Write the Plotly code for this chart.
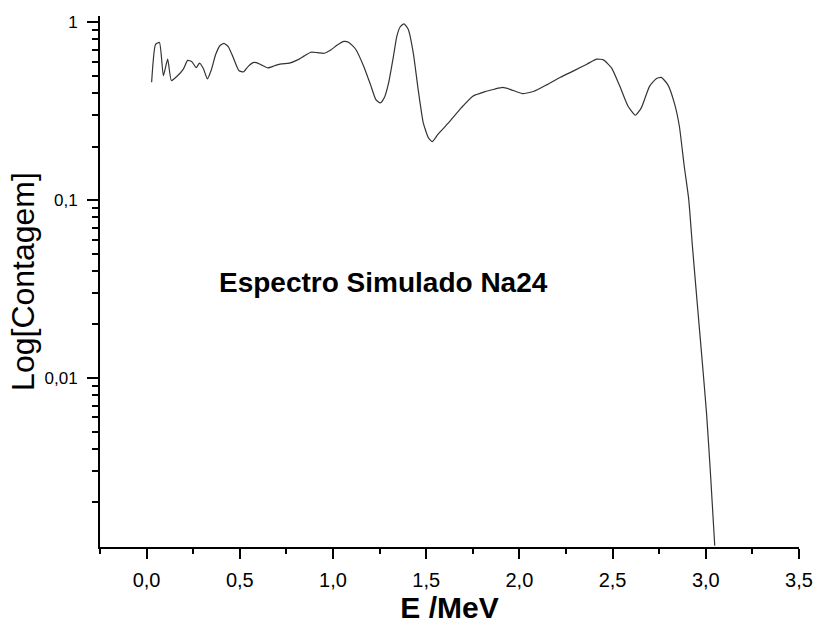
import math
import plotly.graph_objects as go

energy_mev = [0.027, 0.048, 0.069, 0.090, 0.113, 0.133, 0.166, 0.198, 0.220, 0.243,
              0.266, 0.284, 0.305, 0.326, 0.346, 0.371, 0.394, 0.415, 0.438, 0.464,
              0.496, 0.521, 0.544, 0.571, 0.589, 0.615, 0.651, 0.686, 0.722, 0.766,
              0.810, 0.846, 0.881, 0.916, 0.952, 0.988, 1.023, 1.059, 1.085, 1.121,
              1.165, 1.201, 1.230, 1.254, 1.275, 1.298, 1.324, 1.342, 1.360, 1.381,
              1.404, 1.431, 1.457, 1.484, 1.511, 1.532, 1.564, 1.617, 1.688, 1.750,
              1.812, 1.865, 1.910, 1.954, 2.016, 2.078, 2.149, 2.220, 2.291, 2.362,
              2.415, 2.451, 2.495, 2.539, 2.583, 2.622, 2.654, 2.698, 2.734, 2.761,
              2.796, 2.831, 2.858, 2.884, 2.908, 2.929, 2.956, 2.982, 3.004, 3.027,
              3.048]
counts = [0.46, 0.75, 0.77, 0.50, 0.62, 0.47, 0.50, 0.547, 0.61, 0.60,
          0.556, 0.589, 0.547, 0.48, 0.535, 0.66, 0.74, 0.76, 0.73, 0.636,
          0.533, 0.527, 0.563, 0.593, 0.593, 0.576, 0.554, 0.569, 0.583, 0.589,
          0.614, 0.647, 0.678, 0.675, 0.669, 0.698, 0.745, 0.78, 0.77, 0.707,
          0.564, 0.446, 0.367, 0.352, 0.376, 0.455, 0.641, 0.83, 0.94, 0.98,
          0.91, 0.669, 0.418, 0.273, 0.225, 0.213, 0.235, 0.270, 0.330, 0.384,
          0.406, 0.420, 0.430, 0.418, 0.397, 0.409, 0.446, 0.490, 0.533, 0.581,
          0.620, 0.614, 0.552, 0.436, 0.337, 0.300, 0.330, 0.436, 0.481, 0.490,
          0.446, 0.352, 0.261, 0.156, 0.102, 0.0537, 0.0249, 0.012, 0.00633, 0.00269,
          0.00114]

x_ticks = [0.0, 0.5, 1.0, 1.5, 2.0, 2.5, 3.0, 3.5]
x_ticktext = ["0,0", "0,5", "1,0", "1,5", "2,0", "2,5", "3,0", "3,5"]
x_minor = [-0.25, 0.25, 0.75, 1.25, 1.75, 2.25, 2.75, 3.25]
y_ticks = [0.01, 0.1, 1]
y_ticktext = ["0,01", "0,1", "1"]
y_minor = [m * d for d in (0.001, 0.01, 0.1) for m in range(2, 10)]

annotation_text = "Espectro Simulado Na24"
annotation_pos = (1.27, 0.0346)

fig = go.Figure()
fig.add_trace(go.Scatter(x=energy_mev, y=counts, mode="lines",
                         line=dict(color="#333333", width=1.2, shape="spline", smoothing=0.5),
                         showlegend=False))

fig.update_layout(
    width=825, height=628,
    margin=dict(l=100, r=21, t=16, b=77),
    plot_bgcolor="white", paper_bgcolor="white",
    font=dict(family="Liberation Sans, Arial, sans-serif", color="black"),
    separators=",.",
    annotations=[dict(text="<b>" + annotation_text + "</b>",
                      x=annotation_pos[0], y=math.log10(annotation_pos[1]),
                      xref="x", yref="y", showarrow=False,
                      font=dict(size=28, family="Liberation Sans, Arial", color="black"))],
)
fig.update_xaxes(
    range=[-0.25, 3.5], showline=True, linecolor="black", linewidth=2,
    showgrid=False, zeroline=False, mirror=False,
    tickmode="array", tickvals=x_ticks, ticktext=x_ticktext,
    ticks="outside", ticklen=10, tickwidth=2, tickcolor="black",
    ticklabelstandoff=4,
    tickfont=dict(size=20, family="Liberation Sans, Arial"),
    minor=dict(tickmode="array", tickvals=x_minor, ticks="outside", ticklen=5,
               tickwidth=2, tickcolor="black", showgrid=False),
    title=dict(text="<b>E /MeV</b>", font=dict(size=30, family="Liberation Sans, Arial"), standoff=4),
)
fig.update_yaxes(
    type="log", range=[-2.95, 0.035], showline=True, linecolor="black", linewidth=2,
    showgrid=False, zeroline=False, mirror=False,
    tickmode="array", tickvals=y_ticks, ticktext=y_ticktext,
    ticks="outside", ticklen=11, tickwidth=2, tickcolor="black",
    ticklabelstandoff=6,
    tickfont=dict(size=17, family="Liberation Sans, Arial"),
    minor=dict(tickmode="array", tickvals=y_minor, ticks="outside", ticklen=6,
               tickwidth=2, tickcolor="black", showgrid=False),
    title=dict(text="Log[Contagem]", font=dict(size=32, family="Liberation Sans, Arial"), standoff=0),
)

fig.write_html("out.html")
